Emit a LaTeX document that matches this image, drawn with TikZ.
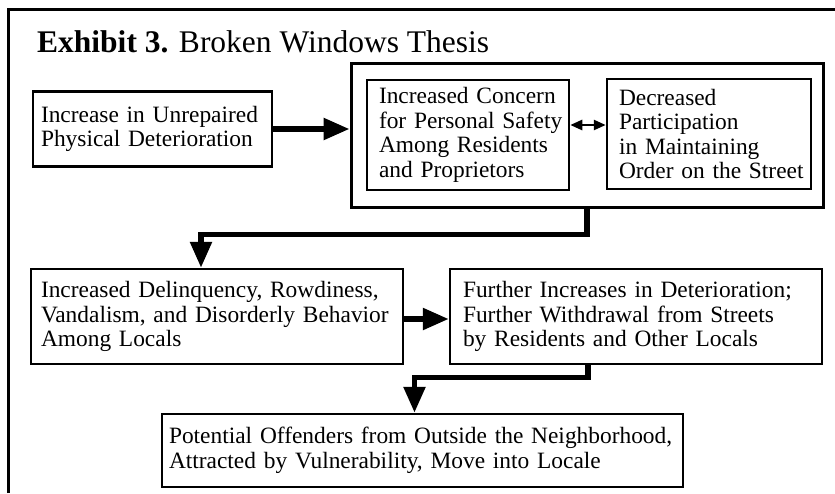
\documentclass[tikz,border=0pt]{standalone}
\usepackage{fontspec}
\setmainfont{Liberation Serif}
\usetikzlibrary{arrows.meta}
\tikzset{
  boxst/.style={draw, line width=2.5pt, rectangle, inner ysep=0pt, align=left,
    font=\fontsize{23.4}{24.5}\selectfont},
  grpst/.style={draw, line width=3pt, rectangle, inner sep=0pt},
  bigarrow/.style={line width=5.5pt, -{Triangle[length=26pt,width=21pt]}},
  smallarrow/.style={line width=2.5pt, {Triangle[length=12pt,width=10pt]}-{Triangle[length=12pt,width=10pt]}},
  framest/.style={line width=2.5pt}
}
\newcommand\bl[1]{\mbox{#1}}
\begin{document}
\begin{tikzpicture}[x=1pt,y=-1pt]
\useasboundingbox (0,0) rectangle (835,493);
% outer frame (cut off at right and bottom)
\coordinate (fb) at (8.7,493);
\coordinate (fc) at (8.7,9.7);
\coordinate (fr) at (835,9.7);
\draw[framest] (fb) -- (fc) -- (fr);
% title
\node[anchor=base west, inner sep=0pt, font=\fontsize{31.5}{34}\selectfont] (title) at (37,52)
  {\bfseries Exhibit 3.\mdseries{} Broken Windows Thesis};
% boxes
\node[boxst, minimum width=239pt, minimum height=75pt, inner xsep=8pt, text width=223pt] (b1) at (152.5,129)
  {\bl{Increase in Unrepaired}\\\bl{Physical Deterioration}};
\node[grpst, minimum width=472pt, minimum height=144pt] (grp) at (587,135) {};
\node[boxst, minimum width=202pt, minimum height=110pt, inner xsep=12pt, text width=178pt] (in1) at (468,135)
  {\bl{Increased Concern}\\\bl{for Personal Safety}\\\bl{Among Residents}\\\bl{and Proprietors}};
\node[boxst, minimum width=204pt, minimum height=110pt, inner xsep=12pt, text width=180pt] (in2) at (709,134)
  {\bl{Decreased}\\\bl{Participation}\\\bl{in Maintaining}\\\bl{Order on the Street}};
\node[boxst, minimum width=372pt, minimum height=95pt, inner xsep=10pt, text width=352pt] (b3) at (217,316.5)
  {\bl{Increased Delinquency, Rowdiness,}\\\bl{Vandalism, and Disorderly Behavior}\\\bl{Among Locals}};
\node[boxst, minimum width=372pt, minimum height=95pt, inner xsep=13pt, text width=346pt] (b4) at (636,316.5)
  {\bl{Further Increases in Deterioration;}\\\bl{Further Withdrawal from Streets}\\\bl{by Residents and Other Locals}};
\node[boxst, minimum width=521pt, minimum height=73pt, inner xsep=7pt, text width=507pt] (b5) at (422.5,450.5)
  {\bl{Potential Offenders from Outside the Neighborhood,}\\\bl{Attracted by Vulnerability, Move into Locale}};
% connectors
\draw[bigarrow] (b1.east) -- (grp.west |- b1.east);
\draw[smallarrow] ([yshift=10pt]in1.east) -- ([yshift=10pt]in1.east -| in2.west);
\coordinate (k1) at (201,234.5);
\draw[bigarrow] (grp.south) |- (k1) -- (k1 |- b3.north);
\draw[bigarrow] ([yshift=-2.5pt]b3.east) -- ([yshift=-2.5pt]b3.east -| b4.west);
\coordinate (k2) at (588,377.5);
\coordinate (k3) at (414.5,377.5);
\draw[bigarrow] (k2 |- b4.south) -- (k2) -- (k3) -- (k3 |- b5.north);
\end{tikzpicture}
\end{document}
